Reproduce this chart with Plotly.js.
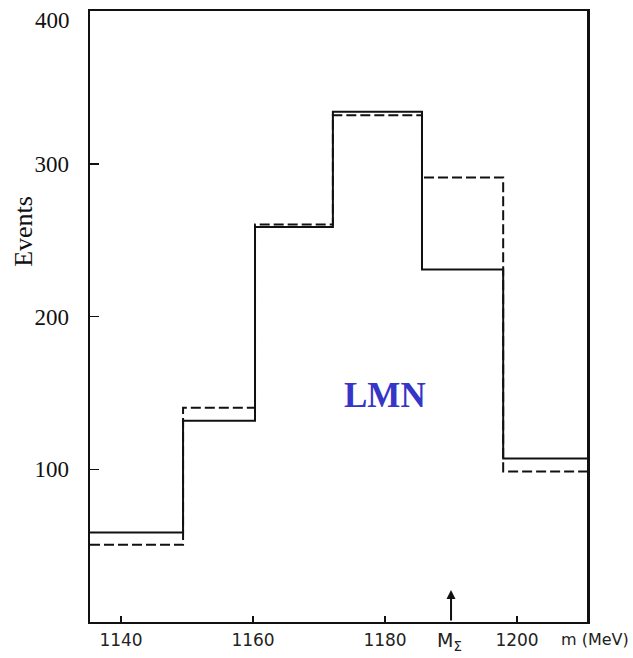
<!DOCTYPE html>
<html>
<head>
<meta charset="utf-8">
<script src="https://cdn.plot.ly/plotly-3.0.1.min.js"></script>
<style>html,body{margin:0;padding:0;background:#fff;}#chart{width:633px;height:658px;}</style>
</head>
<body>
<div id="chart"></div>
<script>
// Bin edges (MeV) and event counts
const binEdges = [1135.3, 1149.4, 1160.3, 1172.1, 1185.6, 1197.9, 1210.6];
const solidCounts = [58.6, 131.8, 258.6, 334, 230.8, 107];
const dashedCounts = [50.5, 140.3, 260.2, 331.8, 291, 98.6];
const xTickVals = [1140, 1160, 1180, 1200];
const xTickText = ['1140', '1160', '1180', '1200'];
const yTickVals = [100, 200, 300];
const yTickText = ['100', '200', '300'];
const yTopVal = 400;
const yTopText = '400';
const massSigma = 1190;

function stepY(counts) { return counts.concat([counts[counts.length - 1]]); }

const traces = [
  {
    x: binEdges, y: stepY(dashedCounts), mode: 'lines', type: 'scatter',
    line: {shape: 'hv', color: '#111', width: 2, dash: '10px,4px'},
    hoverinfo: 'skip', showlegend: false
  },
  {
    x: binEdges, y: stepY(solidCounts), mode: 'lines', type: 'scatter',
    line: {shape: 'hv', color: '#111', width: 2},
    hoverinfo: 'skip', showlegend: false
  }
];

const layout = {
  width: 633, height: 658,
  margin: {l: 90, r: 46, t: 11, b: 36},
  paper_bgcolor: '#fff', plot_bgcolor: '#fff',
  showlegend: false,
  xaxis: {
    range: [binEdges[0], binEdges[binEdges.length - 1]],
    tickvals: xTickVals, ticktext: xTickText,
    ticks: 'inside', ticklen: 6, tickwidth: 1.5, tickcolor: '#111',
    showline: true, linecolor: '#111', linewidth: 2, mirror: true,
    showgrid: false, zeroline: false,
    tickfont: {family: 'DejaVu Sans', size: 17, color: '#222'},
    ticklabelstandoff: 2
  },
  yaxis: {
    range: [0, yTopVal],
    tickvals: yTickVals, ticktext: yTickText,
    ticks: 'inside', ticklen: 9, tickwidth: 1.5, tickcolor: '#111',
    showline: true, linecolor: '#111', linewidth: 2.5, mirror: true,
    showgrid: false, zeroline: false,
    tickfont: {family: 'Liberation Serif', size: 23, color: '#111'},
    ticklabelstandoff: 14
  },
  annotations: [
    {text: yTopText, xref: 'paper', yref: 'y', x: 0, xanchor: 'right', xshift: -18, y: yTopVal, yanchor: 'middle', yshift: -9,
     showarrow: false, font: {family: 'Liberation Serif', size: 23, color: '#111'}},
    {text: 'Events', xref: 'paper', yref: 'paper', x: -0.133, xanchor: 'center', y: 0.64, yanchor: 'middle',
     textangle: -90, showarrow: false, font: {family: 'Liberation Serif', size: 26, color: '#111'}},
    {text: '<b>LMN</b>', xref: 'x', yref: 'y', x: 1180, y: 148.5, showarrow: false,
     font: {family: 'Liberation Serif', size: 35, color: '#3535c8'}},
    {text: 'm (MeV)', xref: 'paper', yref: 'paper', x: 1.088, xanchor: 'right', y: -0.01, yanchor: 'top',
     showarrow: false, font: {family: 'DejaVu Sans', size: 16, color: '#222'}},
    {text: 'M<sub>Σ</sub>', xref: 'x', yref: 'paper', x: massSigma - 0.3, y: -0.008, yanchor: 'top',
     showarrow: false, font: {family: 'DejaVu Sans', size: 19, color: '#222'}},
    {text: '', xref: 'x', yref: 'y', axref: 'x', ayref: 'y', x: massSigma, y: 21, ax: massSigma, ay: 0,
     showarrow: true, arrowhead: 2, arrowsize: 0.9, arrowwidth: 2, arrowcolor: '#111'}
  ]
};

Plotly.newPlot('chart', traces, layout, {displayModeBar: false, staticPlot: true});
</script>
</body>
</html>
